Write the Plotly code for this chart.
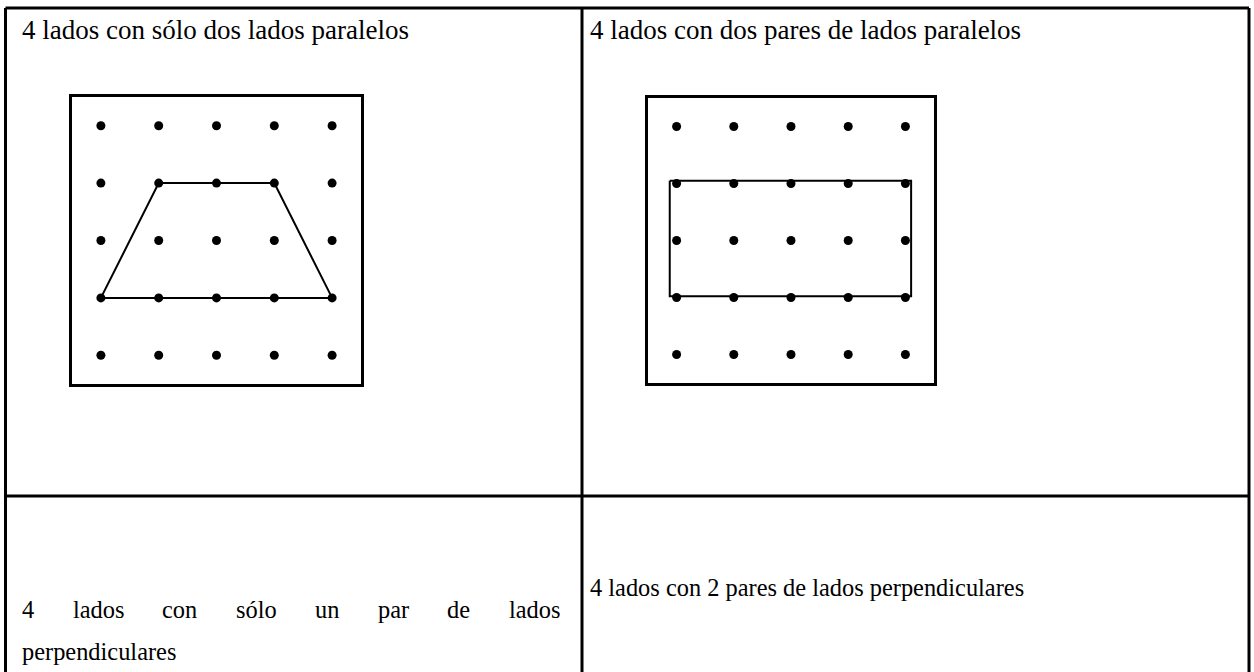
import plotly.graph_objects as go

W, H = 1254, 672

# Geoboard peg grid (5 x 5), row 0 = top
peg_cols = [0, 1, 2, 3, 4]
peg_rows = [0, 1, 2, 3, 4]

# Shape on board 1: trapezoid (only one pair of parallel sides)
trap_x = [0, 1, 3, 4, 0]
trap_y = [3, 1, 1, 3, 3]

# Shape on board 2: rectangle (two pairs of parallel sides)
rect_x = [-0.12, 4.1, 4.1, -0.12, -0.12]
rect_y = [0.95, 0.95, 2.98, 2.98, 0.95]

cell_texts = [
    "4 lados con sólo dos lados paralelos",
    "4 lados con dos pares de lados paralelos",
    "4 lados con 2 pares de lados perpendiculares",
]
justified_words = ["4", "lados", "con", "sólo", "un", "par", "de", "lados"]
second_line = "perpendiculares"

FONT = "Liberation Serif, Times New Roman, serif"

def px(x):
    return x / W

def py(y):
    return 1 - y / H

fig = go.Figure()

boards = [
    dict(x0=72, x1=361, y0=97, y1=384, sx=trap_x, sy=trap_y),
    dict(x0=648, x1=934, y0=98, y1=383, sx=rect_x, sy=rect_y),
]

gx = [c for r in peg_rows for c in peg_cols]
gy = [r for r in peg_rows for c in peg_cols]

for i, b in enumerate(boards, start=1):
    xa = "x" if i == 1 else f"x{i}"
    ya = "y" if i == 1 else f"y{i}"
    fig.add_trace(go.Scatter(x=b["sx"], y=b["sy"], mode="lines",
                             line=dict(color="black", width=2),
                             xaxis=xa, yaxis=ya, showlegend=False, hoverinfo="skip"))
    fig.add_trace(go.Scatter(x=gx, y=gy, mode="markers",
                             marker=dict(color="black", size=9),
                             xaxis=xa, yaxis=ya, showlegend=False, hoverinfo="skip"))
    axcommon = dict(showgrid=False, zeroline=False, showticklabels=False, ticks="",
                    showline=True, linecolor="black", linewidth=3, mirror=True,
                    fixedrange=True)
    xkey = "xaxis" if i == 1 else f"xaxis{i}"
    ykey = "yaxis" if i == 1 else f"yaxis{i}"
    fig.update_layout(**{
        xkey: dict(domain=[px(b["x0"]), px(b["x1"])], anchor=ya,
                   range=[-0.5, 4.5], **axcommon),
        ykey: dict(domain=[py(b["y1"]), py(b["y0"])], anchor=xa,
                   range=[4.5, -0.5], autorange=False, **axcommon),
    })

# Table lines
L, R, T, MIDX, MIDY, B = 5.5, 1249, 8, 582, 496, 675
lines = [
    (L, T, R, T), (L, T, L, B), (R, T, R, B),
    (MIDX, T, MIDX, B), (L, MIDY, R, MIDY),
]
shapes = [dict(type="line", xref="paper", yref="paper",
               x0=px(a), y0=py(b), x1=px(c), y1=py(d),
               line=dict(color="black", width=3)) for a, b, c, d in lines]

ann = []
def add_text(t, x, y, size, anchor="left"):
    ann.append(dict(text=t, x=px(x), y=py(y), xref="paper", yref="paper",
                    xanchor=anchor, yanchor="middle", showarrow=False,
                    font=dict(family=FONT, size=size, color="black")))

TOP_SIZE, BOT_SIZE = 27, 24.4
add_text(cell_texts[0], 20, 30, TOP_SIZE)
add_text(cell_texts[1], 588, 30, TOP_SIZE)
add_text(cell_texts[2], 588, 587, BOT_SIZE)

# justified first line of the bottom-left cell
word_x = [20, 70.5, 160, 234, 313, 375.5, 445, 506.5]
for wrd, wx in zip(justified_words, word_x):
    add_text(wrd, wx, 609, BOT_SIZE)
add_text(second_line, 20, 651, BOT_SIZE)

fig.update_layout(width=W, height=H, margin=dict(l=0, r=0, t=0, b=0),
                  paper_bgcolor="white", plot_bgcolor="white",
                  shapes=shapes, annotations=ann, showlegend=False)

fig.write_html("out.html", config={"displayModeBar": False},
               post_script="document.body.style.margin='0px';document.body.style.overflow='hidden';")
